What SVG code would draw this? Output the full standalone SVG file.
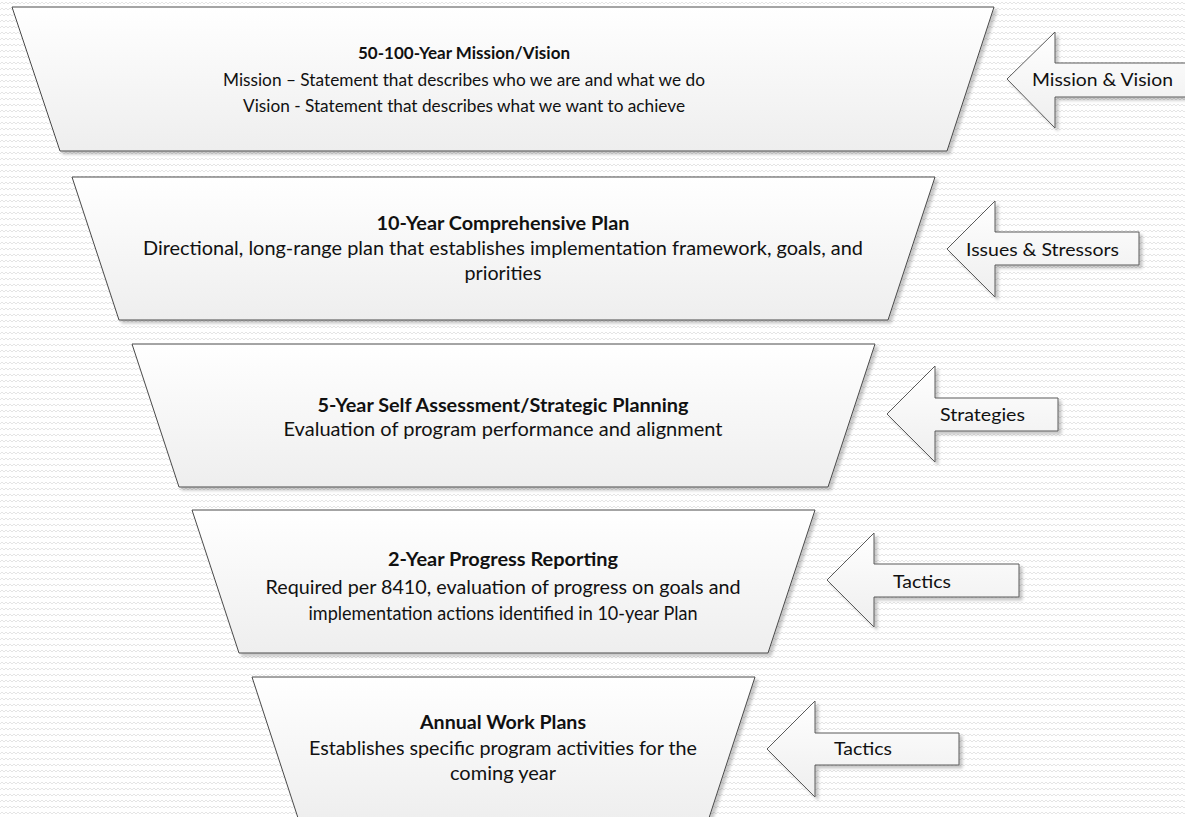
<svg xmlns="http://www.w3.org/2000/svg" width="1185" height="817" viewBox="0 0 1185 817">
<defs>
<pattern id="bgp" width="8" height="6" patternUnits="userSpaceOnUse">
<rect width="8" height="6" fill="#ffffff"/>
<path d="M0,4 L2,2 L4,4 L6,2 L8,4" fill="none" stroke="#e2e2e2" stroke-width="0.9"/>
</pattern>
<linearGradient id="gf" x1="0" y1="0" x2="0" y2="1">
<stop offset="0" stop-color="#ffffff"/>
<stop offset="1" stop-color="#eeeeee"/>
</linearGradient>
<filter id="sh" x="-5%" y="-10%" width="115%" height="130%">
<feDropShadow dx="3" dy="3" stdDeviation="1.5" flood-color="#000" flood-opacity="0.22"/>
</filter>
</defs>
<style>
.shape{fill:url(#gf);stroke:#4a4a4a;stroke-width:1;filter:url(#sh)}
.arr{fill:url(#gf);stroke:#5a5a5a;stroke-width:1;filter:url(#sh)}
text{font-family:Lato,"Liberation Sans",sans-serif;fill:#111;text-anchor:middle}
.hd{font-weight:bold}
</style>
<rect width="1185" height="817" fill="url(#bgp)"/>

<g id="node-mission-vision">
<polygon class="shape" points="12,7 994,7 947,151 60,151"/>
<text class="hd" x="464" y="59" font-size="17.5" textLength="212" lengthAdjust="spacingAndGlyphs">50-100-Year Mission/Vision</text>
<text x="464" y="86" font-size="17.5" textLength="482" lengthAdjust="spacingAndGlyphs">Mission – Statement that describes who we are and what we do</text>
<text x="464" y="112" font-size="17.5" textLength="442" lengthAdjust="spacingAndGlyphs">Vision - Statement that describes what we want to achieve</text>
</g>

<g id="node-comprehensive-plan">
<polygon class="shape" points="72,177 935,177 888,320 119,320"/>
<text class="hd" x="503" y="230" font-size="18.5" textLength="253" lengthAdjust="spacingAndGlyphs">10-Year Comprehensive Plan</text>
<text x="503" y="255" font-size="18.5" textLength="720" lengthAdjust="spacingAndGlyphs">Directional, long-range plan that establishes implementation framework, goals, and</text>
<text x="503" y="280" font-size="18.5" textLength="77" lengthAdjust="spacingAndGlyphs">priorities</text>
</g>

<g id="node-self-assessment">
<polygon class="shape" points="132,344 875,344 828,487 179,487"/>
<text class="hd" x="503" y="412" font-size="19" textLength="371" lengthAdjust="spacingAndGlyphs">5-Year Self Assessment/Strategic Planning</text>
<text x="503" y="436" font-size="19" textLength="439" lengthAdjust="spacingAndGlyphs">Evaluation of program performance and alignment</text>
</g>

<g id="node-progress-reporting">
<polygon class="shape" points="192,510 815,510 768,653 239,653"/>
<text class="hd" x="503" y="566" font-size="18.5" textLength="230" lengthAdjust="spacingAndGlyphs">2-Year Progress Reporting</text>
<text x="503" y="594" font-size="18.5" textLength="475" lengthAdjust="spacingAndGlyphs">Required per 8410, evaluation of progress on goals and</text>
<text x="503" y="620" font-size="18.5" textLength="389" lengthAdjust="spacingAndGlyphs">implementation actions identified in 10-year Plan</text>
</g>

<g id="node-annual-work-plans">
<polygon class="shape" points="252,677 755,677 708,821 299,821"/>
<text class="hd" x="503" y="729" font-size="18.5" textLength="166" lengthAdjust="spacingAndGlyphs">Annual Work Plans</text>
<text x="503" y="755" font-size="18.5" textLength="388" lengthAdjust="spacingAndGlyphs">Establishes specific program activities for the</text>
<text x="503" y="780" font-size="18.5" textLength="106" lengthAdjust="spacingAndGlyphs">coming year</text>
</g>

<g id="arrow-mission-vision">
<path class="arr" d="M1007,79 L1055,32 L1055,63 L1192,63 L1192,97 L1055,97 L1055,128 Z"/>
<text x="1102.5" y="86" font-size="18" textLength="141" lengthAdjust="spacingAndGlyphs">Mission &amp; Vision</text>
</g>

<g id="arrow-issues-stressors">
<path class="arr" d="M947,249 L995,201 L995,232 L1139,232 L1139,265 L995,265 L995,297 Z"/>
<text x="1042.5" y="256" font-size="18" textLength="153" lengthAdjust="spacingAndGlyphs">Issues &amp; Stressors</text>
</g>

<g id="arrow-strategies">
<path class="arr" d="M887,414 L935,366 L935,398 L1058,398 L1058,431 L935,431 L935,462 Z"/>
<text x="982.5" y="421" font-size="18" textLength="85" lengthAdjust="spacingAndGlyphs">Strategies</text>
</g>

<g id="arrow-tactics-1">
<path class="arr" d="M827,580 L874,533 L874,564 L1019,564 L1019,597 L874,597 L874,627 Z"/>
<text x="922" y="588" font-size="18" textLength="58" lengthAdjust="spacingAndGlyphs">Tactics</text>
</g>

<g id="arrow-tactics-2">
<path class="arr" d="M767,749 L815,701 L815,733 L959,733 L959,765 L815,765 L815,797 Z"/>
<text x="863" y="755" font-size="18" textLength="58" lengthAdjust="spacingAndGlyphs">Tactics</text>
</g>

<g id="connectors"/>
</svg>
